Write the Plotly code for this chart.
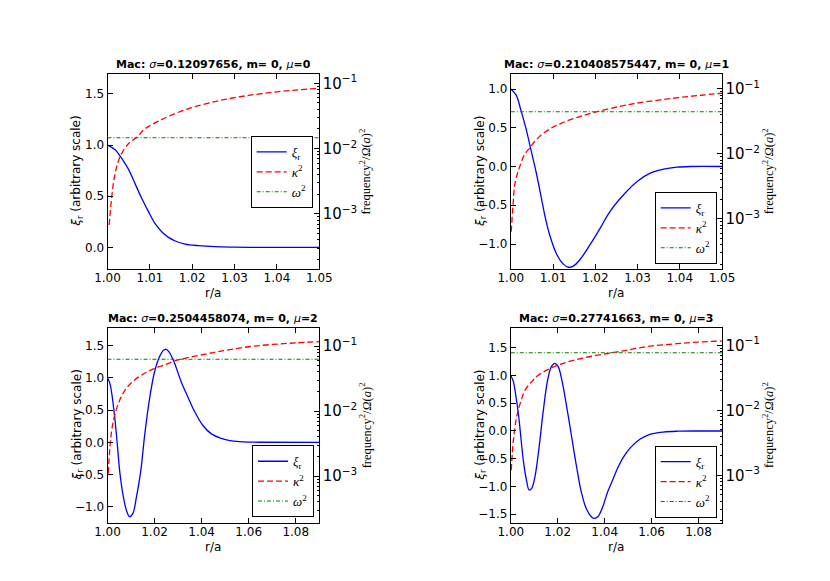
import plotly.graph_objects as go

# panel parameters (titles / omega^2 level / r range)
sigma = ["0.12097656", "0.210408575447", "0.2504458074", "0.27741663"]
mu = ["0", "1", "2", "3"]
omega2 = [0.01464, 0.04427, 0.06272, 0.07696]
r_max = [1.05, 1.05, 1.09, 1.09]

# xi_r (arbitrary scale)
r_xi_0 = [1.0, 1.0018, 1.0034, 1.005, 1.0065, 1.0081, 1.0097, 1.0112, 1.0128, 1.0144,
          1.016, 1.0183, 1.0215, 1.0254, 1.03, 1.035, 1.04, 1.05]
xi_0 = [1.0, 0.955, 0.867, 0.76, 0.623, 0.477, 0.347, 0.234, 0.153, 0.097,
        0.062, 0.032, 0.016, 0.006, 0.002, 0.0, 0.0, 0.0]

r_xi_1 = [1.0, 1.0013, 1.0024, 1.0036, 1.0048, 1.006, 1.0072, 1.0081, 1.0093, 1.0109,
          1.0125, 1.0137, 1.0148, 1.0164, 1.0188, 1.0212, 1.0235, 1.0267, 1.0299, 1.033,
          1.0362, 1.0393, 1.0425, 1.05]
xi_1 = [1.0, 0.918, 0.724, 0.488, 0.207, -0.074, -0.397, -0.643, -0.9, -1.135,
        -1.263, -1.30, -1.285, -1.2, -1.006, -0.792, -0.578, -0.364, -0.193, -0.086,
        -0.034, -0.009, 0.0, 0.0]

r_xi_2 = [1.0, 1.001, 1.002, 1.0031, 1.0042, 1.0052, 1.0066, 1.008, 1.0094, 1.0108,
          1.0122, 1.0141, 1.0158, 1.0179, 1.02, 1.0221, 1.0239, 1.0249, 1.0263, 1.0285,
          1.0313, 1.0341, 1.0369, 1.0404, 1.044, 1.048, 1.052, 1.056, 1.06, 1.065, 1.09]
xi_2 = [1.0, 0.916, 0.709, 0.373, -0.042, -0.456, -0.818, -1.051, -1.155, -1.103,
        -0.87, -0.456, 0.113, 0.683, 1.096, 1.329, 1.433, 1.444, 1.397, 1.227,
        0.942, 0.709, 0.486, 0.269, 0.135, 0.065, 0.028, 0.011, 0.004, 0.001, 0.0]

r_xi_3 = [1.0, 1.0011, 1.0021, 1.0033, 1.0044, 1.0054, 1.0068, 1.0078, 1.0089, 1.0103,
          1.012, 1.0138, 1.0157, 1.0173, 1.0188, 1.0202, 1.0216, 1.0237, 1.0258, 1.0279,
          1.03, 1.0321, 1.0343, 1.0354, 1.0371, 1.0392, 1.0413, 1.0434, 1.0455, 1.048,
          1.051, 1.055, 1.059, 1.065, 1.071, 1.08, 1.09]
xi_3 = [1.0, 0.889, 0.649, 0.288, -0.162, -0.553, -0.913, -1.063, -1.033, -0.823,
        -0.312, 0.348, 0.919, 1.159, 1.22, 1.159, 0.949, 0.468, -0.072, -0.613,
        -1.093, -1.393, -1.544, -1.573, -1.544, -1.364, -1.093, -0.883, -0.672, -0.47,
        -0.3, -0.15, -0.065, -0.02, -0.004, 0.0, 0.0]

# kappa^2 / Omega(a)^2 (log axis)
r_k_0 = [1.0004, 1.001, 1.0018, 1.003, 1.005, 1.007, 1.0085, 1.01, 1.012, 1.015,
         1.019, 1.0254, 1.03, 1.035, 1.04, 1.045, 1.05]
k2_0 = [0.000676, 0.00182, 0.00417, 0.00759, 0.0120, 0.0151, 0.0193, 0.0224, 0.0263, 0.0324,
        0.0407, 0.0525, 0.0603, 0.0676, 0.0741, 0.0794, 0.0838]

r_k_1 = [1.0001, 1.0005, 1.001, 1.0021, 1.0032, 1.0044, 1.0056, 1.0072, 1.0095, 1.0119,
         1.0151, 1.019, 1.0254, 1.03, 1.035, 1.04, 1.045, 1.05]
k2_1 = [0.000631, 0.00153, 0.00351, 0.00631, 0.00955, 0.0121, 0.0153, 0.0194, 0.0246, 0.0294,
        0.0351, 0.0419, 0.0528, 0.0603, 0.0668, 0.0733, 0.0794, 0.0851]

r_k_2 = [1.0003, 1.0017, 1.0031, 1.0052, 1.008, 1.0115, 1.0158, 1.02, 1.0242, 1.0285,
         1.0341, 1.0412, 1.0454, 1.05, 1.06, 1.07, 1.08, 1.09]
k2_2 = [0.00110, 0.00483, 0.00871, 0.0148, 0.0224, 0.0301, 0.0382, 0.0455, 0.0512, 0.0590,
        0.0664, 0.0748, 0.0802, 0.0855, 0.0977, 0.106, 0.112, 0.117]

r_k_3 = [1.0002, 1.0011, 1.0025, 1.004, 1.0061, 1.0089, 1.0117, 1.0159, 1.0202, 1.0244,
         1.03, 1.0357, 1.0413, 1.0455, 1.05, 1.0594, 1.0708, 1.0794, 1.09]
k2_3 = [0.00120, 0.00348, 0.00796, 0.0128, 0.0205, 0.0275, 0.0348, 0.0426, 0.0497, 0.0558,
        0.0628, 0.0692, 0.0750, 0.0796, 0.0851, 0.0977, 0.106, 0.1125, 0.1164]

r_xi = [r_xi_0, r_xi_1, r_xi_2, r_xi_3]
xi = [xi_0, xi_1, xi_2, xi_3]
r_k = [r_k_0, r_k_1, r_k_2, r_k_3]
k2 = [k2_0, k2_1, k2_2, k2_3]

W, H = 830, 581
OFF = 8  # the page body adds 8px on the left/top


def fx(px):
    return (px - OFF) / W


def fy(py):
    return 1 - (py - OFF) / H


# plot boxes in pixels: (left, right, top, bottom)
boxes = [(107.5, 319.3, 73.5, 268.8), (510.8, 722.0, 73.5, 268.8),
         (107.5, 319.3, 327.5, 522.5), (510.8, 722.0, 327.5, 522.5)]
left_ranges = [[-0.21, 1.70], [-1.32, 1.20], [-1.245, 1.783], [-1.649, 1.865]]
right_ranges = [[-3.84, -0.85], [-3.77, -0.766], [-3.714, -0.714], [-3.726, -0.725]]
x_dticks = [0.01, 0.01, 0.02, 0.02]
# legend boxes: (right px, anchor px, yanchor)
legends = [(312.7, 172.0, "middle"), (716.7, 264.0, "bottom"),
           (314.0, 517.3, "bottom"), (716.7, 517.7, "bottom")]

tick_font = dict(family="DejaVu Sans", size=12, color="black")
fig = go.Figure()
layout = dict(width=W, height=H, margin=dict(l=0, r=0, t=0, b=0, autoexpand=False),
              paper_bgcolor="white", plot_bgcolor="white", annotations=[])

for i in range(4):
    l, r, t, b = boxes[i]
    xa = "x" if i == 0 else f"x{i + 1}"
    yl = "y" if i == 0 else f"y{2 * i + 1}"
    yr = f"y{2 * i + 2}"
    leg = "legend" if i == 0 else f"legend{i + 1}"

    fig.add_trace(go.Scatter(x=r_xi[i], y=xi[i], xaxis=xa, yaxis=yl, mode="lines",
                             line=dict(color="#0000ff", width=1.3, shape="spline"),
                             name="<i>ξ</i><sub>r</sub>", legend=leg))
    fig.add_trace(go.Scatter(x=r_k[i], y=k2[i], xaxis=xa, yaxis=yr, mode="lines",
                             line=dict(color="#ff0000", width=1.3, dash="6px,3px", shape="spline"),
                             name="<i>κ</i><sup>2</sup>", legend=leg))
    fig.add_trace(go.Scatter(x=[1.0, r_max[i]], y=[omega2[i], omega2[i]], xaxis=xa, yaxis=yr,
                             mode="lines", line=dict(color="#008000", width=1.1, dash="4px,2px,1px,2px"),
                             name="<i>ω</i><sup>2</sup>", legend=leg))

    xkey = "xaxis" if i == 0 else f"xaxis{i + 1}"
    ylkey = "yaxis" if i == 0 else f"yaxis{2 * i + 1}"
    yrkey = f"yaxis{2 * i + 2}"
    layout[xkey] = dict(domain=[fx(l), fx(r)], anchor=yl, range=[1.0, r_max[i]],
                        dtick=x_dticks[i], tick0=1.0, tickformat=".2f",
                        ticks="inside", ticklen=5, tickcolor="black", ticklabelstandoff=-2,
                        showline=True, linecolor="black", linewidth=1, mirror="ticks",
                        showgrid=False, zeroline=False, tickfont=tick_font, automargin=False)
    layout[ylkey] = dict(domain=[fy(b), fy(t)], anchor=xa, range=left_ranges[i], dtick=0.5, tick0=0,
                         tickformat=".1f", ticks="inside", ticklen=5, tickcolor="black",
                         showline=True, linecolor="black", linewidth=1, mirror=True,
                         showgrid=False, zeroline=False, tickfont=tick_font, automargin=False)
    layout[yrkey] = dict(overlaying=yl, anchor=xa, side="right", type="log",
                         range=right_ranges[i], dtick=1, exponentformat="power",
                         ticks="inside", ticklen=5, tickcolor="black",
                         minor=dict(ticks="inside", ticklen=2.5, tickcolor="black", dtick="D1"),
                         showline=True, linecolor="black", linewidth=1,
                         showgrid=False, zeroline=False, tickfont=tick_font, automargin=False)

    lx, ly, lanchor = legends[i]
    layout[leg] = dict(x=fx(lx), y=fy(ly), xanchor="right", yanchor=lanchor,
                       bgcolor="white", bordercolor="black", borderwidth=1,
                       font=dict(family="Liberation Serif", size=13, color="black"),
                       itemwidth=30, tracegroupgap=0)

    cx = (l + r) / 2
    cy = (t + b) / 2
    title = (f"<b>Mac: </b><i>σ</i><b>=</b><b>{sigma[i]}, m= 0, </b>"
             f"<i>μ</i><b>={mu[i]}</b>")
    layout["annotations"] += [
        dict(text=title, x=fx(cx), y=fy(t - 1), xref="paper", yref="paper",
             xanchor="center", yanchor="bottom", showarrow=False,
             font=dict(family="DejaVu Sans", size=11, color="black")),
        dict(text="r/a", x=fx(cx), y=fy(b + 24), xref="paper", yref="paper",
             xanchor="center", yanchor="middle", showarrow=False,
             font=dict(family="DejaVu Sans", size=12, color="black")),
        dict(text="<i>ξ</i><sub>r</sub> (arbitrary scale)", x=fx(l - 30), y=fy(cy),
             xref="paper", yref="paper", xanchor="center", yanchor="middle", textangle=-90,
             showarrow=False, font=dict(family="DejaVu Sans", size=12, color="black")),
        dict(text="frequency<sup>2</sup>/<i>Ω</i>(<i>a</i>)<sup>2</sup>", x=fx(r + 46),
             y=fy(cy), xref="paper", yref="paper", xanchor="center",
             yanchor="middle", textangle=-90, showarrow=False,
             font=dict(family="Liberation Serif", size=12.5, color="black")),
    ]

fig.update_layout(**layout)
fig.write_html("out.html")
